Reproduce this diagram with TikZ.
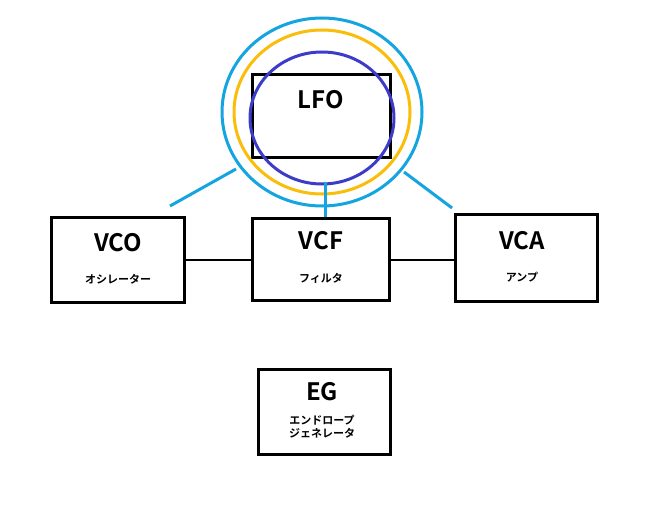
\documentclass[tikz,border=0pt]{standalone}
\usepackage{fontspec}
\setmainfont{Noto Sans CJK JP}[BoldFont={Noto Sans CJK JP Bold}]
\begin{document}
\begin{tikzpicture}[x=1pt,y=-1pt,
  box/.style={draw=black,line width=3pt,fill=white,inner sep=0pt},
  ttl/.style={font=\fontsize{24}{24}\selectfont\bfseries},
  sub/.style={font=\fontsize{11}{13}\selectfont\bfseries,align=center},
  lb/.style={draw={rgb,255:red,20;green,165;blue,225},line width=3pt}]
\useasboundingbox (0,0) rectangle (658,516);
\fill[white] (0,0) rectangle (658,516);
\node[box,minimum width=138pt,minimum height=83pt] (lfo) at (321,116) {};
\node[ttl] at (321,100) {LFO};
\draw[lb] (322,112) ellipse [x radius=100, y radius=94];
\draw[draw={rgb,255:red,250;green,190;blue,10},line width=3pt] (322,112) ellipse [x radius=88, y radius=82];
\draw[draw={rgb,255:red,60;green,60;blue,200},line width=3pt] (322,118) ellipse [x radius=72, y radius=66];
\node[box,minimum width=133pt,minimum height=85pt] (vco) at (118,260) {};
\node[box,minimum width=137pt,minimum height=82pt] (vcf) at (321,259) {};
\node[box,minimum width=142pt,minimum height=87pt] (vca) at (526,258) {};
\node[box,minimum width=132pt,minimum height=85pt] (eg) at (324,412) {};
\node[ttl] at (118,243) {VCO};
\node[sub] at (118,279) {オシレーター};
\node[ttl] at (321,241) {VCF};
\node[sub] at (321,278) {フィルタ};
\node[ttl] at (522,241) {VCA};
\node[sub] at (522,277) {アンプ};
\node[ttl] at (322,392) {EG};
\node[sub] at (322,427) {エンドロープ\\ジェネレータ};
\draw[line width=1.2pt] (vco.east |- 0,260) -- (vcf.west |- 0,260);
\draw[line width=1.2pt] (vcf.east |- 0,260) -- (vca.west |- 0,260);
\coordinate (a1) at (236,169); \coordinate (a2) at (170,206);
\coordinate (b1) at (404,172); \coordinate (b2) at (452,208);
\coordinate (c1) at (325,182);
\draw[lb] (a1) -- (a2);
\draw[lb] (b1) -- (b2);
\draw[lb] (c1) -- (vcf.north -| c1);
\end{tikzpicture}
\end{document}
